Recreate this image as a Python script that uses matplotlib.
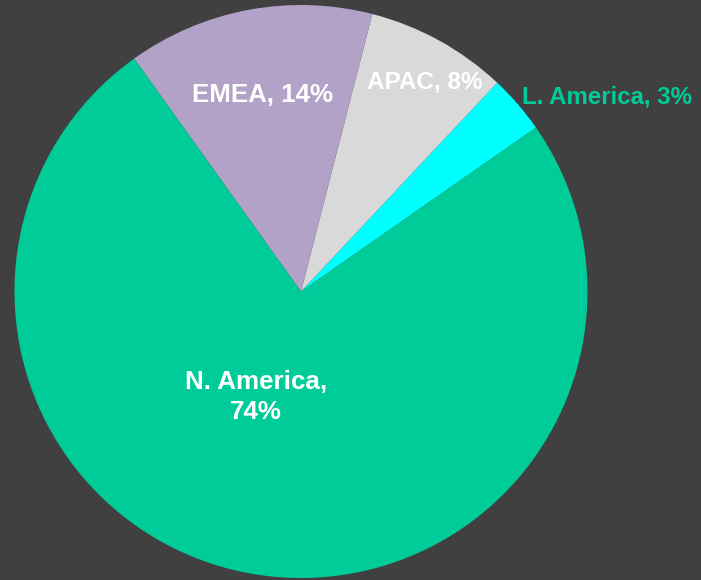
import matplotlib
matplotlib.use('Agg')
import matplotlib.pyplot as plt

# region shares (counterclockwise from the L. America slice)
regions = ['L. America', 'APAC', 'EMEA', 'N. America']
shares = [3.3, 8.0, 13.9, 74.8]
pct_labels = ['3%', '8%', '14%', '74%']
colors = ['#00FFFF', '#D9D9D9', '#B3A2C7', '#00CC99']

bg = '#404040'
plt.rcParams['font.family'] = ['Liberation Sans', 'DejaVu Sans']

fig = plt.figure(figsize=(7.01, 5.8), dpi=100, facecolor=bg)
ax = fig.add_axes([0, 0, 1, 1])
ax.set_facecolor(bg)

ax.pie(shares, colors=colors, startangle=34.9, counterclock=True,
       center=(301, 288.5), radius=286.5,
       wedgeprops=dict(linewidth=0))

ax.set_xlim(0, 701)
ax.set_ylim(0, 580)
ax.set_aspect('equal')
ax.axis('off')

# label positions in pixels (x, y from top), and sizes
label_pos = {
    'L. America': (607, 97),
    'APAC': (425, 82),
    'EMEA': (262, 95),
    'N. America': (256, 397),
}
label_size = {'L. America': 17.3, 'APAC': 17.5, 'EMEA': 18.6, 'N. America': 18.7}
label_color = {
    'L. America': '#00CC99',
    'APAC': 'white',
    'EMEA': 'white',
    'N. America': 'white',
}
for name, pct in zip(regions, pct_labels):
    x, y = label_pos[name]
    if name == 'N. America':
        txt = name + ',\n' + pct
    else:
        txt = name + ', ' + pct
    ax.text(x, 580 - y, txt, ha='center', va='center', fontsize=label_size[name],
            fontweight='bold', color=label_color[name], linespacing=1.32)

fig.savefig('out.png', dpi=100, facecolor=bg)
